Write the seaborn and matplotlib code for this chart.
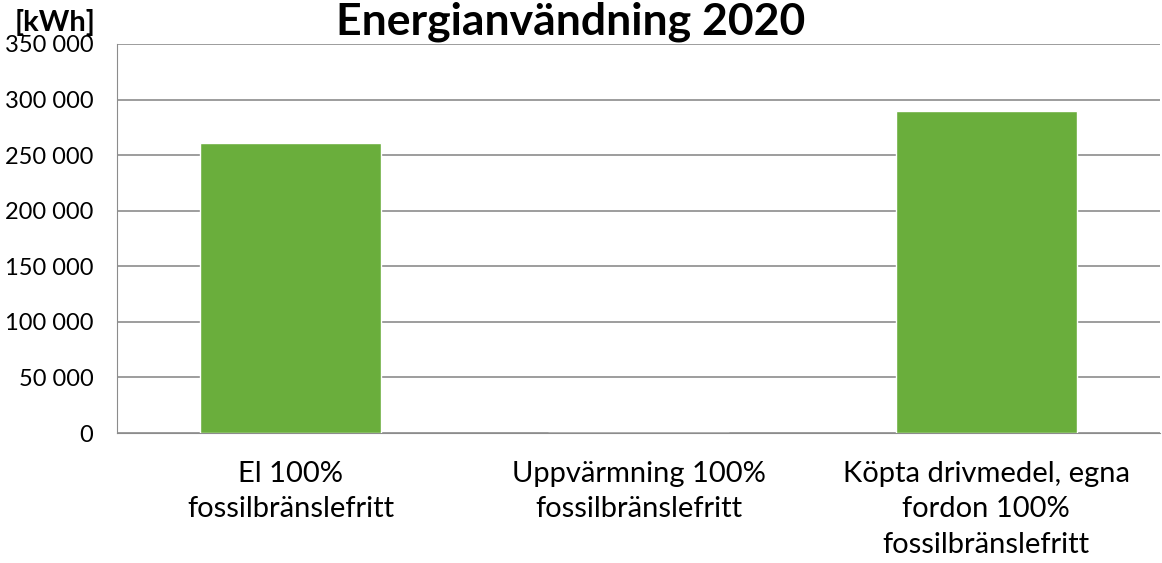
import numpy as np
import pandas as pd
import seaborn as sns
import matplotlib.pyplot as plt
from matplotlib.ticker import FuncFormatter

categories = ["El 100%\nfossilbränslefritt",
              "Uppvärmning 100%\nfossilbränslefritt",
              "Köpta drivmedel, egna\nfordon 100%\nfossilbränslefritt"]
values = [261000, 0, 290000]
yticks = [0, 50000, 100000, 150000, 200000, 250000, 300000, 350000]

df = pd.DataFrame({"kategori": categories, "kWh": values})

sns.set_style("white")
plt.rcParams["font.family"] = ["Lato", "DejaVu Sans"]
plt.rcParams["text.color"] = "black"
plt.rcParams["xtick.color"] = "black"
plt.rcParams["ytick.color"] = "black"

fig = plt.figure(figsize=(11.62, 5.63), dpi=100)
ax = fig.add_axes([117 / 1162, 1 - 433 / 563, (1160 - 117) / 1162, (433 - 44) / 563])

sns.barplot(data=df, x="kategori", y="kWh", color="#6aae3c", width=0.52,
            saturation=1, ax=ax, zorder=3)

ax.set_ylim(0, 350000)
ax.set_yticks(yticks)
ax.yaxis.set_major_formatter(FuncFormatter(lambda v, p: f"{int(v):,}".replace(",", " ")))
ax.grid(axis="y", color="#8c8c8c", linewidth=1.2, zorder=0)
for s in ["top", "right"]:
    ax.spines[s].set_visible(False)
ax.spines["left"].set_color("#8c8c8c")
ax.spines["bottom"].set_color("#8c8c8c")
ax.tick_params(axis="y", labelsize=17, length=0, pad=17, labelcolor="black")
ax.tick_params(axis="x", labelsize=21, length=0, pad=20, labelcolor="black")
for lbl in ax.get_xticklabels():
    lbl.set_linespacing(1.45)
ax.set_xlabel("")
ax.set_ylabel("")

fig.text(571 / 1162, 1 - 22 / 563, "Energianvändning 2020", ha="center", va="center",
         fontsize=32, fontweight="bold", color="black")
fig.text(55 / 1162, 1 - 22 / 563, "[kWh]", ha="center", va="center",
         fontsize=21, fontweight="bold", color="black")

fig.savefig("out.png", dpi=100)
